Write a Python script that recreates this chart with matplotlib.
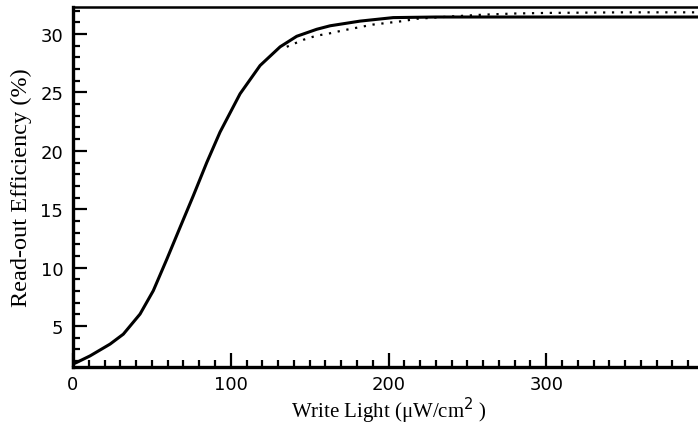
import matplotlib
matplotlib.use("Agg")
import matplotlib.pyplot as plt
from matplotlib.ticker import MultipleLocator

# Data
solid_x = [0, 2.3, 10.8, 23.5, 31.9, 42.5, 50.9, 59.4, 67.9, 76.3, 84.8, 93.2, 105.9,
           118.6, 131.3, 141.8, 154.5, 163, 182, 203, 230, 300, 400]
solid_y = [1.75, 1.89, 2.45, 3.46, 4.31, 6.03, 8.03, 10.7, 13.46, 16.17, 19.0, 21.6, 24.88,
           27.3, 28.9, 29.8, 30.4, 30.7, 31.1, 31.4, 31.45, 31.45, 31.45]
dot_x = [135.5, 146, 154.5, 161, 171, 190, 209, 218, 240, 260, 280, 300, 350, 400]
dot_y = [28.9, 29.5, 29.86, 30.0, 30.3, 30.8, 31.1, 31.3, 31.5, 31.65, 31.75, 31.8, 31.85, 31.85]
x_ticks = [0, 100, 200, 300]
y_ticks = [5, 10, 15, 20, 25, 30]

fig = plt.figure(figsize=(6.98, 4.31), dpi=100)
ax = fig.add_axes([73 / 698, 63 / 431, 631 / 698, 360.5 / 431])

ax.plot(solid_x, solid_y, color="black", lw=2.2, solid_capstyle="round",
        solid_joinstyle="round")
ax.plot(dot_x, dot_y, color="black", lw=1.6, linestyle=(0, (1, 3)))

ax.set_xlim(0, 400)
ax.set_ylim(1.5, 32.35)
ax.set_xticks(x_ticks)
ax.set_yticks(y_ticks)
ax.xaxis.set_minor_locator(MultipleLocator(10))
ax.yaxis.set_minor_locator(MultipleLocator(1))

ax.tick_params(which="both", direction="in", top=False, right=False,
               width=1.6, color="black")
ax.tick_params(which="major", length=10, labelsize=13)
ax.tick_params(axis="y", which="major", pad=7)
ax.tick_params(axis="x", which="major", pad=6)
ax.tick_params(which="minor", length=5)
for lbl in ax.get_xticklabels() + ax.get_yticklabels():
    lbl.set_family("DejaVu Sans")

for side in ["left", "bottom"]:
    ax.spines[side].set_linewidth(2.4)
ax.spines["top"].set_linewidth(1.8)
ax.spines["right"].set_visible(False)

ax.set_xlabel("Write Light (\u03bcW/cm$^2$ )", family="Liberation Serif", fontsize=15, labelpad=1)
ax.set_ylabel("Read-out Efficiency (%)", family="Liberation Serif", fontsize=17.5, labelpad=6)

fig.savefig("out.png", dpi=100)
